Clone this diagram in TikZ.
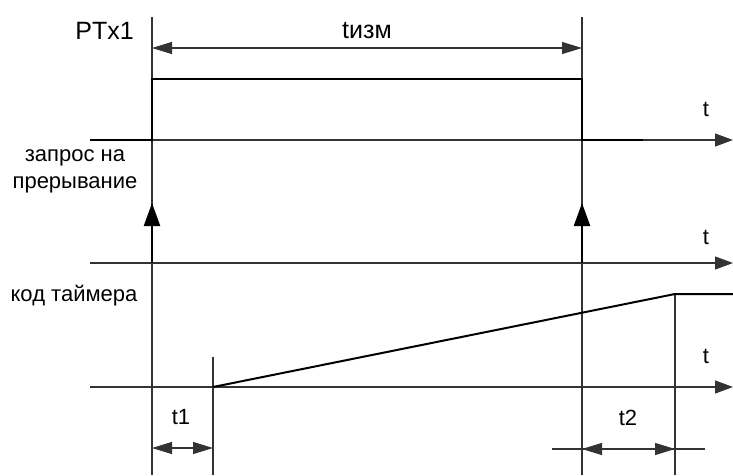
\documentclass[tikz,border=0pt]{standalone}
\usepackage{fontspec}
\setmainfont{Liberation Sans}
\usetikzlibrary{arrows.meta}
\begin{document}
\begin{tikzpicture}[x=1pt,y=-1pt,
  thinln/.style={line width=1.2pt, draw=black!80},
  sigln/.style={line width=2.4pt, draw=black},
  axisarr/.style={thinln, -{Triangle[length=18pt,width=13pt]}},
  dimarr/.style={thinln, {Triangle[length=20pt,width=12pt]}-{Triangle[length=20pt,width=12pt]}},
  intarr/.style={sigln, -{Triangle[length=23pt,width=16pt]}},
  lbl/.style={font=\fontsize{22}{27}\selectfont, inner sep=0pt, text=black},
  biglbl/.style={font=\fontsize{25}{30}\selectfont, inner sep=0pt, text=black}]
\useasboundingbox (0,0) rectangle (733,475);
% coordinates
\coordinate (L0) at (152,17);  \coordinate (L1) at (152,475);
\coordinate (R0) at (582,17);  \coordinate (R1) at (582,475);
\coordinate (A0) at (90,140);  \coordinate (A1) at (733,140);
\coordinate (B0) at (90,263);  \coordinate (B1) at (733,263);
\coordinate (C0) at (90,387);  \coordinate (C1) at (733,387);
\coordinate (P1) at (152,140); \coordinate (P2) at (152,79);
\coordinate (P3) at (582,79);  \coordinate (P4) at (582,140);
\coordinate (P5) at (643,140);
\coordinate (S0) at (213,387); \coordinate (S1) at (675,294); \coordinate (S2) at (733,294);
\coordinate (V1a) at (213,357); \coordinate (V1b) at (213,475);
\coordinate (V2b) at (675,475);
\coordinate (M0) at (152,48);  \coordinate (M1) at (582,48);
\coordinate (I0a) at (152,263); \coordinate (I0b) at (152,203);
\coordinate (I1a) at (582,263); \coordinate (I1b) at (582,203);
\coordinate (T1a) at (152,448); \coordinate (T1b) at (213,448);
\coordinate (T2a) at (582,449); \coordinate (T2b) at (675,449);
\coordinate (E0) at (552,449);  \coordinate (E1) at (705,449);
% vertical guide lines
\draw[thinln] (L0) -- (L1);
\draw[thinln] (R0) -- (R1);
\draw[thinln] (V1a) -- (V1b);
\draw[thinln] (S1) -- (V2b);
% axes
\draw[axisarr] (A0) -- (A1);
\draw[axisarr] (B0) -- (B1);
\draw[axisarr] (C0) -- (C1);
% pulse
\draw[sigln, line join=miter] (A0) -- (P1) -- (P2) -- (P3) -- (P4) -- (P5);
% ramp
\draw[line width=2pt] (S0) -- (S1) -- (S2);
% interrupts
\draw[intarr] (I0a) -- (I0b);
\draw[intarr] (I1a) -- (I1b);
% dimensions
\draw[dimarr] (M0) -- (M1);
\draw[dimarr] (T1a) -- (T1b);
\draw[thinln] (E0) -- (E1);
\draw[dimarr] (T2a) -- (T2b);
% labels
\node[biglbl, anchor=east] (ptx) at (134,31) {PTx1};
\node[biglbl] (tizm) at (367,31) {tизм};
\node[lbl] (ta) at (706,109) {t};
\node[lbl] (tb) at (706,237) {t};
\node[lbl] (tc) at (706,356) {t};
\node[lbl, align=center] (zap) at (75,171) {запрос на\\прерывание};
\node[lbl] (kod) at (74,296) {код таймера};
\node[lbl] (t1) at (181,417) {t1};
\node[lbl] (t2) at (628,418) {t2};
\end{tikzpicture}
\end{document}
